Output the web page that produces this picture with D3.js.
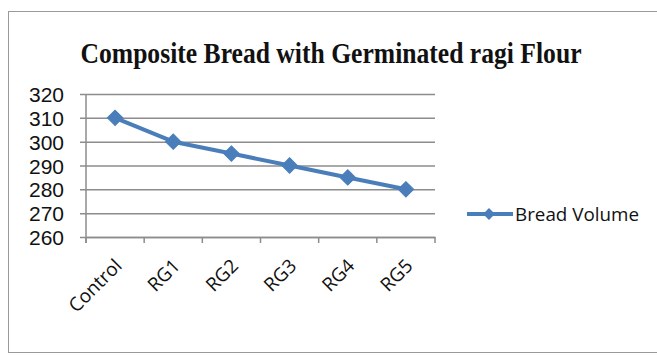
<!DOCTYPE html>
<html>
<head>
<meta charset="utf-8">
<script src="https://cdn.jsdelivr.net/npm/d3@7"></script>
<style>
html,body{margin:0;padding:0;background:#fff;}
svg{display:block;}
</style>
</head>
<body>
<svg id="chart" width="657" height="356"></svg>
<script>
const categories = ["Control", "RG1", "RG2", "RG3", "RG4", "RG5"];
const breadVolume = [310, 300, 295, 290, 285, 280];
const yTicks = [260, 270, 280, 290, 300, 310, 320];
const seriesName = "Bread Volume";
const titleText = "Composite Bread with Germinated ragi Flour";

const svg = d3.select("#chart");
const blue = "#4A7EBB";

// chart frame
svg.append("rect").attr("x", 8.5).attr("y", 11.5).attr("width", 660).attr("height", 341)
  .attr("fill", "#fff").attr("stroke", "#9a9a9a").attr("stroke-width", 1);

const plot = {left: 86, right: 435, top: 94, bottom: 237};

const x = d3.scaleBand().domain(categories).range([plot.left, plot.right]);
const y = d3.scaleLinear().domain([260, 320]).range([plot.bottom, plot.top]);

// title
svg.append("text").attr("x", 331).attr("y", 63).attr("text-anchor", "middle")
  .attr("font-family", "Liberation Serif").attr("font-weight", "bold")
  .attr("font-size", 29).attr("textLength", 501).attr("lengthAdjust", "spacingAndGlyphs")
  .attr("fill", "#111").text(titleText);

// gridlines + y axis
const yAxis = d3.axisLeft(y).tickValues(yTicks).tickSize(plot.right - plot.left).tickSizeOuter(0).tickPadding(0);
const gy = svg.append("g").attr("transform", `translate(${plot.right},0)`).call(yAxis);
gy.select(".domain").remove();
gy.selectAll(".tick line").attr("stroke", "#8c8c8c").attr("stroke-width", 1.5)
  .attr("x1", 0).attr("x2", -(plot.right - plot.left + 6));
gy.selectAll(".tick text").attr("x", -(plot.right - plot.left) - 22).attr("dy", "0.36em")
  .attr("font-family", "Liberation Sans Narrow, Liberation Sans").attr("font-size", 21)
  .attr("fill", "#111").attr("text-anchor", "end");

// vertical axis line
svg.append("line").attr("x1", plot.left).attr("x2", plot.left).attr("y1", plot.top).attr("y2", plot.bottom + 6)
  .attr("stroke", "#8c8c8c").attr("stroke-width", 1.5);

// x axis
const xAxis = d3.axisBottom(x).tickSize(0).tickFormat("");
const gx = svg.append("g").attr("transform", `translate(0,${plot.bottom})`).call(xAxis);
gx.select(".domain").attr("stroke", "#8c8c8c").attr("stroke-width", 1.5);
gx.selectAll(".tick").remove();
const bounds = categories.map(c => x(c)).concat([plot.right]);
gx.selectAll("line.bt").data(bounds).join("line").attr("class", "bt")
  .attr("x1", d => d).attr("x2", d => d).attr("y1", 0).attr("y2", 6)
  .attr("stroke", "#8c8c8c").attr("stroke-width", 1.5);

// x labels rotated
svg.append("g").selectAll("text").data(categories).join("text")
  .attr("transform", d => `translate(${x(d) + x.bandwidth() / 2 + 8},${plot.bottom + 30}) rotate(-45)`)
  .attr("text-anchor", "end")
  .attr("font-family", "Open Sans").attr("font-size", 19).attr("fill", "#111")
  .text(d => d);

// line
const pts = categories.map((c, i) => [x(c) + x.bandwidth() / 2, y(breadVolume[i])]);
svg.append("path").attr("d", d3.line()(pts)).attr("fill", "none")
  .attr("stroke", blue).attr("stroke-width", 4).attr("stroke-linejoin", "round");

svg.append("g").selectAll("path").data(pts).join("path")
  .attr("transform", d => `translate(${d[0]},${d[1]}) rotate(45)`)
  .attr("d", d3.symbol().type(d3.symbolSquare).size(120))
  .attr("fill", blue).attr("stroke", blue).attr("stroke-width", 1);

// legend
svg.append("line").attr("x1", 467).attr("x2", 513).attr("y1", 214).attr("y2", 214)
  .attr("stroke", blue).attr("stroke-width", 4);
svg.append("path").attr("transform", "translate(489,214) rotate(45)")
  .attr("d", d3.symbol().type(d3.symbolSquare).size(70)).attr("fill", blue);
svg.append("text").attr("x", 515).attr("y", 221)
  .attr("font-family", "Open Sans").attr("font-size", 19).attr("textLength", 124)
  .attr("lengthAdjust", "spacingAndGlyphs").attr("fill", "#111").text(seriesName);
</script>
</body>
</html>
